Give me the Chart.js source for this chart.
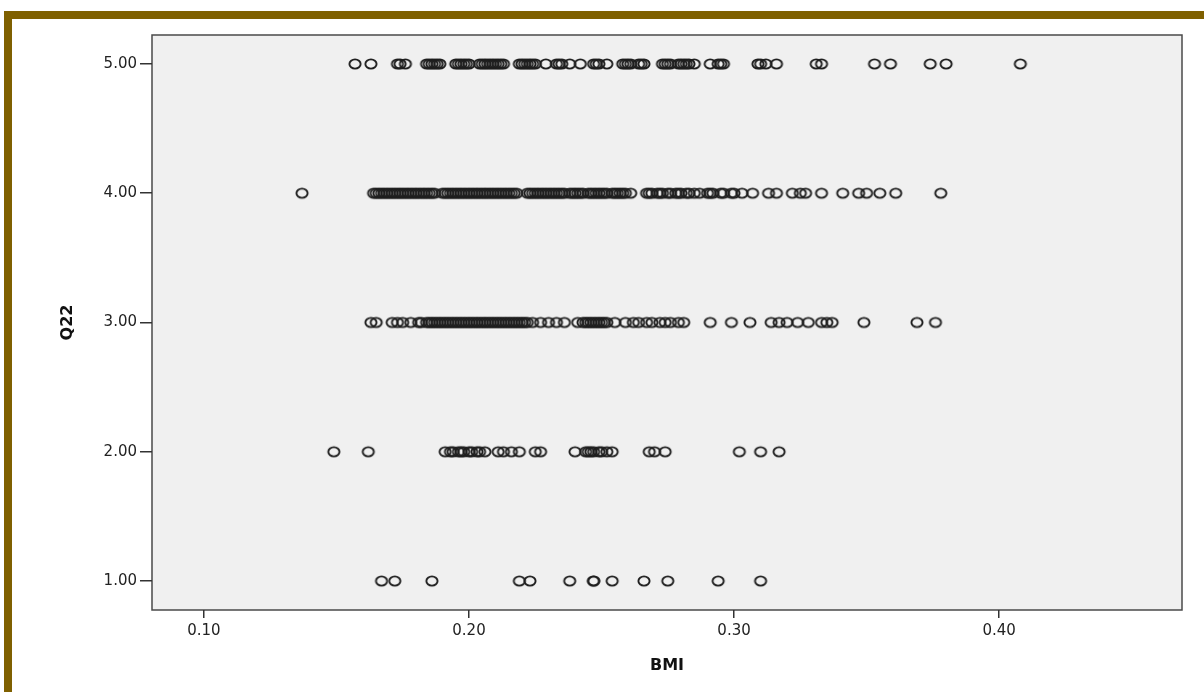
<!DOCTYPE html>
<html>
<head>
<meta charset="utf-8">
<title>Q22 vs BMI</title>
<script src="https://cdn.jsdelivr.net/npm/chart.js@4/dist/chart.umd.min.js"></script>
<style>
  html, body { margin: 0; padding: 0; background: #fff; }
  #wrap { position: relative; width: 1204px; height: 692px; overflow: hidden; }
  #frame {
    position: absolute; left: 4px; top: 11px; width: 1300px; height: 800px;
    border-top: 8px solid #7f6000; border-left: 8px solid #7f6000;
  }
  #chart { position: absolute; left: 0; top: 0; }
</style>
</head>
<body>
<div id="wrap">
  <div id="frame"></div>
  <canvas id="chart" width="1204" height="692"></canvas>
</div>
<script>
// BMI values for each answer level of Q22
const bmiQ22_5 = [0.157, 0.163, 0.173, 0.174, 0.176, 0.184, 0.185, 0.186, 0.187, 0.188, 0.189, 0.195,
  0.196, 0.197, 0.198, 0.199, 0.200, 0.204, 0.205, 0.206, 0.207, 0.208, 0.209, 0.210, 0.211, 0.212,
  0.213, 0.219, 0.220, 0.221, 0.222, 0.223, 0.224, 0.225, 0.229, 0.233, 0.234, 0.235, 0.238, 0.242,
  0.247, 0.248, 0.249, 0.252, 0.258, 0.259, 0.260, 0.261, 0.264, 0.265, 0.266, 0.273, 0.274, 0.275,
  0.276, 0.279, 0.280, 0.281, 0.282, 0.283, 0.285, 0.291, 0.294, 0.295, 0.296, 0.309, 0.310, 0.312,
  0.316, 0.331, 0.333, 0.353, 0.359, 0.374, 0.380, 0.408];
const bmiQ22_4 = [0.137, 0.164, 0.165, 0.166, 0.167, 0.168, 0.169, 0.170, 0.171, 0.172, 0.173, 0.174,
  0.175, 0.176, 0.177, 0.178, 0.179, 0.180, 0.181, 0.182, 0.183, 0.184, 0.185, 0.186, 0.187, 0.190,
  0.191, 0.192, 0.193, 0.194, 0.195, 0.196, 0.197, 0.198, 0.199, 0.200, 0.201, 0.202, 0.203, 0.204,
  0.205, 0.206, 0.207, 0.208, 0.209, 0.210, 0.211, 0.212, 0.213, 0.214, 0.215, 0.216, 0.217, 0.218,
  0.222, 0.223, 0.224, 0.225, 0.226, 0.227, 0.228, 0.229, 0.230, 0.231, 0.232, 0.233, 0.234, 0.235,
  0.236, 0.238, 0.239, 0.240, 0.241, 0.242, 0.243, 0.245, 0.246, 0.247, 0.248, 0.249, 0.250, 0.251,
  0.252, 0.254, 0.255, 0.256, 0.257, 0.258, 0.259, 0.261, 0.267, 0.268, 0.269, 0.271, 0.272, 0.273,
  0.275, 0.276, 0.278, 0.279, 0.280, 0.282, 0.283, 0.285, 0.287, 0.290, 0.291, 0.292, 0.295, 0.296,
  0.299, 0.300, 0.303, 0.307, 0.313, 0.316, 0.322, 0.325, 0.327, 0.333, 0.341, 0.347, 0.350, 0.355,
  0.361, 0.378];
const bmiQ22_3 = [0.163, 0.165, 0.171, 0.173, 0.175, 0.178, 0.181, 0.182, 0.184, 0.185, 0.186, 0.187,
  0.188, 0.189, 0.190, 0.191, 0.192, 0.193, 0.194, 0.195, 0.196, 0.197, 0.198, 0.199, 0.200, 0.201,
  0.202, 0.203, 0.204, 0.205, 0.206, 0.207, 0.208, 0.209, 0.210, 0.211, 0.212, 0.213, 0.214, 0.215,
  0.216, 0.217, 0.218, 0.219, 0.220, 0.221, 0.222, 0.224, 0.227, 0.230, 0.233, 0.236, 0.241, 0.243,
  0.244, 0.245, 0.246, 0.247, 0.248, 0.249, 0.250, 0.251, 0.252, 0.255, 0.259, 0.262, 0.264, 0.267,
  0.269, 0.272, 0.274, 0.276, 0.279, 0.281, 0.291, 0.299, 0.306, 0.314, 0.317, 0.320, 0.324, 0.328,
  0.333, 0.335, 0.337, 0.349, 0.369, 0.376];
const bmiQ22_2 = [0.149, 0.162, 0.191, 0.193, 0.194, 0.196, 0.197, 0.198, 0.200, 0.201, 0.203, 0.204,
  0.206, 0.211, 0.213, 0.216, 0.219, 0.225, 0.227, 0.240, 0.244, 0.245, 0.246, 0.247, 0.249, 0.250,
  0.252, 0.254, 0.268, 0.270, 0.274, 0.302, 0.310, 0.317];
const bmiQ22_1 = [0.167, 0.172, 0.186, 0.219, 0.223, 0.238, 0.247, 0.247, 0.254, 0.266, 0.275, 0.294,
  0.310];

const q22Levels = [5, 4, 3, 2, 1];
const bmiByLevel = [bmiQ22_5, bmiQ22_4, bmiQ22_3, bmiQ22_2, bmiQ22_1];
const xTicks = [0.10, 0.20, 0.30, 0.40];
const yTicks = [1, 2, 3, 4, 5];

// hollow, slightly flattened marker like the SPSS one
const marker = document.createElement('canvas');
marker.width = 16; marker.height = 14;
(function () {
  const c = marker.getContext('2d');
  c.strokeStyle = '#1e1e1e';
  c.lineWidth = 1.9;
  c.beginPath();
  c.ellipse(8, 7, 5.6, 4.6, 0, 0, Math.PI * 2);
  c.stroke();
})();

const datasets = q22Levels.map((lvl, i) => ({
  label: 'Q22 = ' + lvl,
  data: bmiByLevel[i].map(b => ({ x: b, y: lvl })),
  pointStyle: marker,
  pointRadius: 6,
  showLine: false
}));

const plotFrame = {
  id: 'plotFrame',
  beforeDraw(chart) {
    const { ctx, chartArea: a } = chart;
    ctx.save();
    ctx.fillStyle = '#f0f0f0';
    ctx.fillRect(a.left, a.top, a.right - a.left, a.bottom - a.top);
    ctx.strokeStyle = '#4a4a4a';
    ctx.lineWidth = 1.5;
    ctx.strokeRect(a.left, a.top, a.right - a.left, a.bottom - a.top);
    ctx.restore();
  }
};

const tickFont = { family: 'DejaVu Sans, Arial, sans-serif', size: 15 };
const titleFont = { family: 'DejaVu Sans, Arial, sans-serif', size: 16, weight: 'bold' };

new Chart(document.getElementById('chart'), {
  type: 'scatter',
  data: { datasets },
  options: {
    responsive: false,
    animation: false,
    layout: { padding: { top: 35, right: 22, left: 0, bottom: 0 } },
    plugins: { legend: { display: false }, tooltip: { enabled: false } },
    scales: {
      x: {
        type: 'linear',
        min: 0.0804,
        max: 0.469,
        afterBuildTicks: s => { s.ticks = xTicks.map(v => ({ value: v })); },
        afterFit: s => { s.height = 82; },
        border: { display: false },
        grid: { drawOnChartArea: false, tickLength: 8, color: '#333', lineWidth: 1.5 },
        ticks: { color: '#222', font: tickFont, padding: 4, maxRotation: 0,
          callback: v => v.toFixed(2) },
        title: { display: true, text: 'BMI', color: '#111', font: titleFont,
          padding: { top: 0, bottom: 17 } }
      },
      y: {
        type: 'linear',
        min: 0.776,
        max: 5.224,
        afterBuildTicks: s => { s.ticks = yTicks.map(v => ({ value: v })); },
        afterFit: s => { s.width = 152; },
        border: { display: false },
        grid: { drawOnChartArea: false, tickLength: 12, color: '#333', lineWidth: 1.5 },
        ticks: { color: '#222', font: tickFont, padding: 3,
          callback: v => v.toFixed(2) },
        title: { display: true, text: 'Q22', color: '#111', font: titleFont,
          padding: { top: 58, bottom: 0 } }
      }
    }
  },
  plugins: [plotFrame]
});
</script>
</body>
</html>
